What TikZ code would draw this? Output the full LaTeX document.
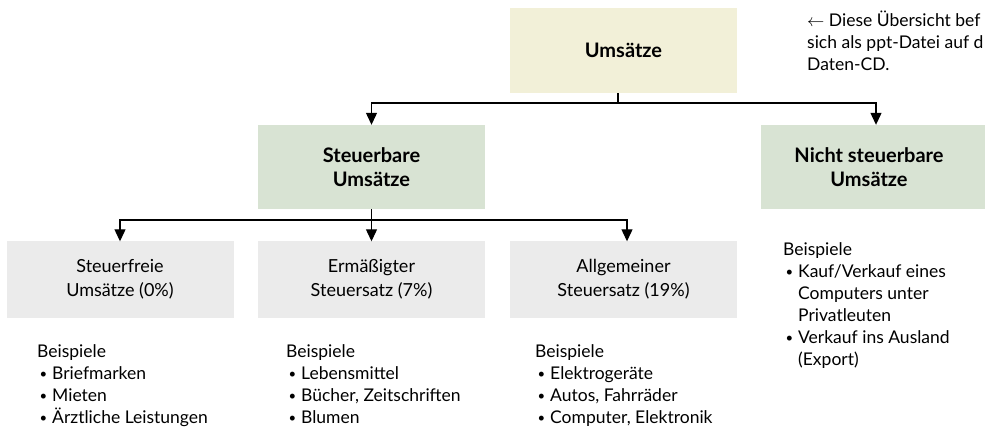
\documentclass[tikz,border=0pt]{standalone}
\usepackage{fontspec}
\setmainfont{Lato}
\usetikzlibrary{arrows.meta}
\definecolor{cream}{HTML}{F2F0D8}
\definecolor{sage}{HTML}{D8E3D3}
\definecolor{lgray}{HTML}{EBEBEB}
\newcommand\lbul{\makebox[15pt][l]{\hspace{2.5pt}\raisebox{1pt}{\scalebox{0.75}{•}}}}
\begin{document}
\begin{tikzpicture}[x=1pt,y=-1pt,
  box/.style={rectangle, inner sep=0pt, minimum width=227pt, minimum height=84pt, align=center},
  head/.style={box, font=\fontsize{20}{24}\selectfont\bfseries},
  sub/.style={box, fill=lgray, minimum height=76pt, font=\fontsize{18}{24}\selectfont},
  conn/.style={line width=1.2pt},
  arr/.style={conn, -{Triangle[length=12pt,width=11pt]}},
  lst/.style={anchor=base west, inner sep=0pt, font=\fontsize{17.5}{22}\selectfont}]
\useasboundingbox (0,0) rectangle (985,430);
% top level
\node[head, fill=cream, minimum height=85pt] (u) at (623.5,50.5) {Umsätze};
\node[head, fill=sage] (st) at (371.5,167) {Steuerbare\\Umsätze};
\node[box, fill=sage, minimum width=230pt] (ns) at (876,167) {};
\node[head, minimum width=0pt, minimum height=0pt] (nst) at (869,167) {Nicht steuerbare\\Umsätze};
% bottom boxes
\node[sub] (b1) at (120,279.5) {Steuerfreie\\Umsätze (0\%)};
\node[sub] (b2) at (371.5,279.5) {Ermäßigter\\Steuersatz (7\%)};
\node[sub] (b3) at (623.5,279.5) {Allgemeiner\\Steuersatz (19\%)};
% connectors
\coordinate (h1) at (618,103);
\coordinate (h2) at (371.5,220);
\draw[conn] (u.south -| h1) -- (h1);
\draw[arr] (h1) -| (st.north);
\draw[arr] (h1) -| (ns.north);
\draw[conn] (st.south) -- (h2);
\draw[arr] (h2) -| (b1.north);
\draw[arr] (h2) -- (b2.north);
\draw[arr] (h2) -| ([xshift=3.5pt]b3.north);
% lists
\node[lst] (l1) at (37,357) {\begin{tabular}[t]{@{}l@{}}Beispiele\\\lbul Briefmarken\\\lbul Mieten\\\lbul Ärztliche Leistungen\end{tabular}};
\node[lst] (l2) at (286,357) {\begin{tabular}[t]{@{}l@{}}Beispiele\\\lbul Lebensmittel\\\lbul Bücher, Zeitschriften\\\lbul Blumen\end{tabular}};
\node[lst] (l3) at (535,357) {\begin{tabular}[t]{@{}l@{}}Beispiele\\\lbul Elektrogeräte\\\lbul Autos, Fahrräder\\\lbul Computer, Elektronik\end{tabular}};
\node[lst] (l4) at (783,256) {\begin{tabular}[t]{@{}l@{}}Beispiele\\\lbul Kauf/Verkauf eines\\\hspace*{15pt}Computers unter\\\hspace*{15pt}Privatleuten\\\lbul Verkauf ins Ausland\\\hspace*{15pt}(Export)\end{tabular}};
% note
\node[lst] (note) at (807,27) {\begin{tabular}[t]{@{}l@{}}$\leftarrow$ Diese Übersicht bef\\sich als ppt-Datei auf d\\Daten-CD.\end{tabular}};
\end{tikzpicture}
\end{document}
